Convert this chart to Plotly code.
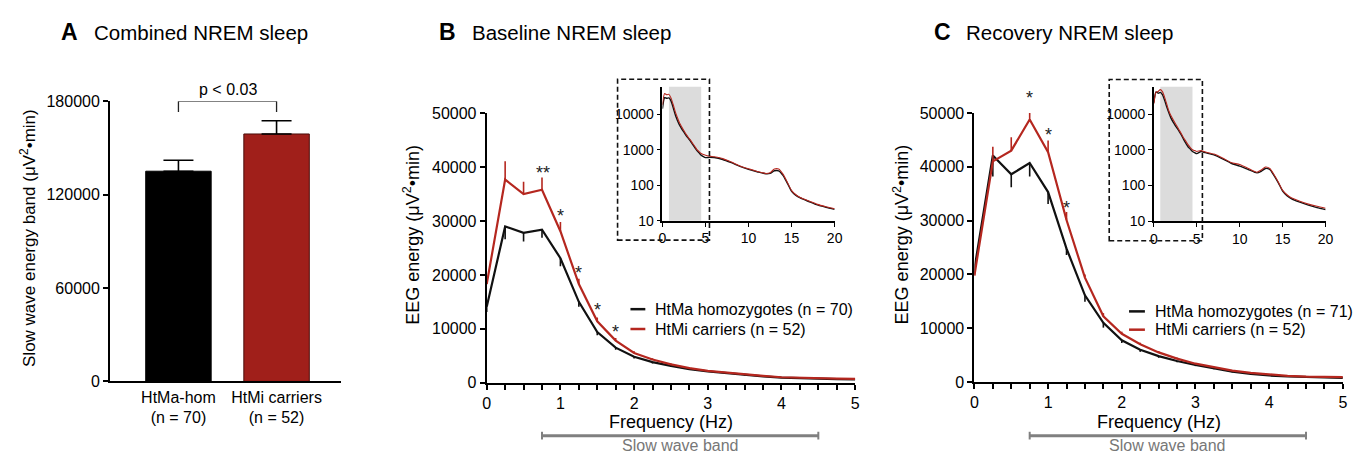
import plotly.graph_objects as go

W, H = 1368, 461
FONT = "Liberation Sans, Arial, sans-serif"
BLACK = "#111111"
RED = "#B5271F"
BAR_RED = "#A01F1A"

# ---------------- Panel A data ----------------
groups = ["HtMa-hom", "HtMi carriers"]
group_n = ["(n = 70)", "(n = 52)"]
swe_mean = [135000, 158900]
swe_sem = [7000, 8500]
p_label = "p < 0.03"
a_yticks = [0, 60000, 120000, 180000]

# ---------------- Panels B/C main data (0-5 Hz, 0.25 Hz bins) ----------------
freq = [0.0, 0.25, 0.5, 0.75, 1.0, 1.25, 1.5, 1.75, 2.0, 2.25, 2.5,
        2.75, 3.0, 3.25, 3.5, 3.75, 4.0, 4.25, 4.5, 4.75, 5.0]

base_hom = [14100, 29000, 27800, 28400, 23100, 15000, 9400, 6500, 4800, 3800, 3100,
            2500, 2100, 1750, 1400, 1150, 950, 820, 700, 640, 600]
base_hom_sem = [1000, 2400, 1600, 1500, 1500, 900, 600, 400, 300, 250, 200,
                150, 120, 100, 80, 70, 60, 50, 40, 40, 40]
base_car = [18300, 37700, 35000, 35800, 28100, 18300, 11400, 7800, 5500, 4300, 3400,
            2700, 2200, 1850, 1500, 1250, 1000, 880, 780, 730, 700]
base_car_sem = [800, 3400, 2300, 2300, 1700, 1000, 700, 500, 350, 250, 200,
                150, 120, 100, 80, 70, 60, 50, 40, 40, 40]

rec_hom = [21000, 42100, 38600, 40700, 35300, 24800, 16100, 11000, 7750, 6000, 4800,
           3900, 3150, 2500, 1900, 1500, 1200, 1050, 900, 830, 780]
rec_hom_sem = [1000, 3900, 2400, 2500, 2200, 1200, 1200, 900, 500, 400, 300,
               250, 200, 150, 120, 100, 80, 70, 60, 50, 45]
rec_car = [19800, 41000, 43000, 48800, 42700, 30100, 19400, 12200, 8950, 7000, 5500,
           4350, 3400, 2700, 2100, 1700, 1370, 1150, 1000, 950, 900]
rec_car_sem = [800, 2700, 2500, 3000, 2200, 1500, 600, 600, 400, 300, 250,
               200, 150, 120, 100, 80, 70, 60, 50, 45, 40]

# significance marks (frequency, label, height)
base_sig_f = [0.77, 1.0, 1.25, 1.5, 1.75]
base_sig_t = ["**", "*", "*", "*", "*"]
base_sig_y = [39450, 31400, 21000, 14000, 9950]
rec_sig_f = [0.75, 1.0, 1.25]
rec_sig_t = ["*", "*", "*"]
rec_sig_y = [53400, 46400, 32900]

# ---------------- Inset extension (5.5-20 Hz) ----------------
inset_freq_ext = [5.5, 6, 7, 8, 9, 10, 11, 12, 12.5, 13, 13.5, 14, 14.5, 15, 15.5, 16, 17, 18, 19, 20]
base_hom_ext = [610, 600, 530, 430, 340, 280, 240, 210, 215, 255, 255, 190, 115, 68, 52, 44, 35, 28, 24, 21]
base_car_ext = [660, 630, 560, 450, 350, 290, 245, 215, 225, 285, 285, 205, 122, 71, 54, 45, 36, 29, 25, 22]
rec_hom_ext = [900, 830, 720, 560, 420, 350, 280, 225, 250, 300, 280, 190, 118, 70, 52, 43, 34, 28, 24, 21]
rec_car_ext = [950, 870, 760, 590, 440, 385, 300, 235, 270, 330, 300, 200, 124, 73, 55, 45, 36, 30, 26, 23]

inset_yticks = [10, 100, 1000, 10000]
inset_xticks = [0, 5, 10, 15, 20]
band = [0.75, 4.5]
band_label = "Slow wave band"
main_yticks = [0, 10000, 20000, 30000, 40000, 50000]

legend_b = ["HtMa homozygotes (n = 70)", "HtMi carriers (n = 52)"]
legend_c = ["HtMa homozygotes (n = 71)", "HtMi carriers (n = 52)"]
ytitle_main = "EEG energy (\u03bcV<sup>2</sup>\u2022min)"
ytitle_a = "Slow wave energy band (\u03bcV<sup>2</sup>\u2022min)"
xtitle = "Frequency (Hz)"
panel_letters = ["A", "B", "C"]
panel_titles = ["Combined NREM sleep", "Baseline NREM sleep", "Recovery NREM sleep"]


def px(x):
    return x / W


def py(y):
    return 1 - y / H


fig = go.Figure()

# Panel A bars
fig.add_trace(go.Bar(
    x=groups, y=swe_mean, width=0.667,
    marker=dict(color=["#000000", BAR_RED], line=dict(color=["#000000", "#4a0d0a"], width=1)),
    error_y=dict(type="data", array=swe_sem, arrayminus=[0, 0], symmetric=False,
                 color="#000000", thickness=1.6, width=15),
    xaxis="x", yaxis="y", showlegend=False,
))


def spectrum(xa, ya, f, hom, hom_sem, car, car_sem):
    fig.add_trace(go.Scatter(
        x=f, y=hom, mode="lines", line=dict(color=BLACK, width=2.2),
        error_y=dict(type="data", array=[0] * len(hom), arrayminus=hom_sem, symmetric=False,
                     color=BLACK, thickness=1.6, width=0),
        xaxis=xa, yaxis=ya, showlegend=False, cliponaxis=False))
    fig.add_trace(go.Scatter(
        x=f, y=car, mode="lines", line=dict(color=RED, width=2.2),
        error_y=dict(type="data", array=car_sem, arrayminus=[0] * len(car), symmetric=False,
                     color=RED, thickness=1.6, width=0),
        xaxis=xa, yaxis=ya, showlegend=False, cliponaxis=False))


def inset(xa, ya, hom, car, hom_ext, car_ext):
    fx = freq + inset_freq_ext
    fig.add_trace(go.Scatter(x=fx, y=hom + hom_ext, mode="lines",
                             line=dict(color=BLACK, width=1.4, shape="spline", smoothing=0.6),
                             xaxis=xa, yaxis=ya, showlegend=False))
    fig.add_trace(go.Scatter(x=fx, y=car + car_ext, mode="lines",
                             line=dict(color=RED, width=1.1, shape="spline", smoothing=0.6),
                             xaxis=xa, yaxis=ya, showlegend=False))


spectrum("x2", "y2", freq, base_hom, base_hom_sem, base_car, base_car_sem)
inset("x3", "y3", base_hom, base_car, base_hom_ext, base_car_ext)
spectrum("x4", "y4", freq, rec_hom, rec_hom_sem, rec_car, rec_car_sem)
inset("x5", "y5", rec_hom, rec_car, rec_hom_ext, rec_car_ext)

tickfont = dict(family=FONT, size=16, color="#000")
insetfont = dict(family=FONT, size=14, color="#000")

common = dict(showgrid=False, zeroline=False, showline=True, linecolor="#000",
              ticks="outside", tickcolor="#000")

# Panel A axes
fig.update_layout(
    xaxis=dict(domain=[px(107), px(340)], anchor="y", range=[-0.697, 1.657],
               showgrid=False, zeroline=False, showline=True, linecolor="#000", linewidth=2,
               ticks="", tickvals=groups,
               ticktext=[f"{g}<br>{n}" for g, n in zip(groups, group_n)],
               tickfont=tickfont, fixedrange=True),
    yaxis=dict(domain=[py(387.7), py(96.7)], anchor="x", range=[0, 180000],
               tickvals=a_yticks, ticktext=[str(v) for v in a_yticks],
               linewidth=2, ticklen=5, tickwidth=1.5, tickfont=tickfont, **common),
)

main_x = dict(range=[0, 5], tickvals=[0, 1, 2, 3, 4, 5], ticklen=5, tickwidth=1.5, linewidth=2,
              minor=dict(dtick=0.25, ticks="outside", ticklen=5, tickwidth=1.5, tickcolor="#000"),
              tickfont=tickfont, **common)
main_y = dict(range=[0, 50000], tickvals=main_yticks,
              ticktext=[str(v) for v in main_yticks],
              ticklen=5, tickwidth=1.5, linewidth=2, tickfont=tickfont, **common)
ins_x = dict(range=[0, 20], tickvals=inset_xticks, ticklen=4, tickwidth=1.3, linewidth=1.6,
             tickfont=insetfont, **common)
ins_y = dict(type="log", range=[1, 4.77], tickvals=inset_yticks,
             ticktext=[str(v) for v in inset_yticks], ticklen=4, tickwidth=1.3, linewidth=1.6,
             tickfont=insetfont, **common)

B_YDOM = [py(389), py(109.3)]
C_YDOM = [py(388.3), py(109)]
fig.update_layout(
    xaxis2=dict(domain=[px(487), px(858.7)], anchor="y2", **main_x),
    yaxis2=dict(domain=B_YDOM, anchor="x2", **main_y),
    xaxis3=dict(domain=[px(664.3), px(838)], anchor="y3", **ins_x),
    yaxis3=dict(domain=[py(221), py(81.7)], anchor="x3", **ins_y),
    xaxis4=dict(domain=[px(979), px(1350.7)], anchor="y4", **main_x),
    yaxis4=dict(domain=C_YDOM, anchor="x4", **main_y),
    xaxis5=dict(domain=[px(1160), px(1333.3)], anchor="y5", **ins_x),
    yaxis5=dict(domain=[py(221.3), py(81.7)], anchor="x5", **ins_y),
)

shapes = []
ann = []

# bracket panel A
top = a_yticks[-1]
drop = 7000
shapes += [
    dict(type="line", xref="x", yref="y", x0=0, x1=0, y0=top - drop, y1=top, line=dict(color="#222", width=1.3)),
    dict(type="line", xref="x", yref="y", x0=0, x1=1, y0=top, y1=top, line=dict(color="#222", width=1.3)),
    dict(type="line", xref="x", yref="y", x0=1, x1=1, y0=top - drop, y1=top, line=dict(color="#222", width=1.3)),
]
ann.append(dict(text=p_label, x=0.5, y=top, xref="x", yref="y", yanchor="bottom", yshift=1,
                showarrow=False, font=dict(family=FONT, size=16, color="#000")))

# grey band + dashed boxes for insets
for xa, ya, box in [("x3", "y3", (619, 74, 711.7, 241)), ("x5", "y5", (1115, 74.3, 1209, 241.7))]:
    shapes.append(dict(type="rect", xref=xa, yref=ya + " domain", x0=band[0], x1=band[1], y0=0, y1=1,
                       fillcolor="#DCDCDC", line=dict(width=0), layer="below"))
    shapes.append(dict(type="rect", xref="paper", yref="paper", x0=px(box[0]), x1=px(box[2]),
                       y0=py(box[3]), y1=py(box[1]),
                       line=dict(color="#111", width=1.6, dash="5px,3px")))

# slow wave band brackets + x titles
for xa in ["x2", "x4"]:
    yb = py(444)
    shapes.append(dict(type="line", xref=xa, yref="paper", x0=band[0], x1=band[1], y0=yb, y1=yb,
                       line=dict(color="#808080", width=3)))
    for b in band:
        shapes.append(dict(type="line", xref=xa, yref="paper", x0=b, x1=b, y0=py(440), y1=py(448),
                           line=dict(color="#808080", width=2)))
    ann.append(dict(text=band_label, x=(band[0] + band[1]) / 2, y=py(454), xref=xa, yref="paper",
                    showarrow=False, yanchor="middle",
                    font=dict(family=FONT, size=16, color="#777777")))
    ann.append(dict(text=xtitle, x=2.5, y=py(430), xref=xa, yref="paper", showarrow=False,
                    yanchor="middle", font=dict(family=FONT, size=18, color="#000")))

# significance asterisks (placed in paper y so marks above the axis top still show)
for xa, ydom, fs, ts, ys in [("x2", B_YDOM, base_sig_f, base_sig_t, base_sig_y),
                             ("x4", C_YDOM, rec_sig_f, rec_sig_t, rec_sig_y)]:
    ymax = main_yticks[-1]
    for f, t, y in zip(fs, ts, ys):
        yp = ydom[0] + (ydom[1] - ydom[0]) * y / ymax
        ann.append(dict(text=t, x=f, y=yp, xref=xa, yref="paper", showarrow=False, yanchor="middle",
                        yshift=-3, font=dict(family=FONT, size=18, color="#222")))

# manual legends
for labels, lx0, lx1, tx, ys in [(legend_b, 632, 647, 655, (312.7, 333.3)),
                                 (legend_c, 1135, 1151, 1159, (315, 334))]:
    for lab, col, yy in zip(labels, [BLACK, RED], ys):
        shapes.append(dict(type="line", xref="paper", yref="paper", x0=px(lx0), x1=px(lx1),
                           y0=py(yy), y1=py(yy), line=dict(color=col, width=2.5)))
        ann.append(dict(text=lab, x=px(tx), y=py(yy), xref="paper", yref="paper", showarrow=False,
                        xanchor="left", yanchor="middle", font=dict(family=FONT, size=16, color="#000")))

# y-axis titles
for text, xc, yc, size in [(ytitle_a, 24, 239, 17), (ytitle_main, 411, 235, 18), (ytitle_main, 905, 235, 18)]:
    ann.append(dict(text=text, x=px(xc), y=py(yc), xref="paper", yref="paper", showarrow=False,
                    textangle=-90, xanchor="center", yanchor="middle",
                    font=dict(family=FONT, size=size, color="#000")))

# panel titles
for letter, lx, title, tx in zip(panel_letters, [55, 437, 936], panel_titles, [89, 470, 968]):
    ann.append(dict(text=f"<b>{letter}</b>", x=px(lx), y=py(25), xref="paper", yref="paper",
                    showarrow=False, xanchor="left", yanchor="middle",
                    font=dict(family=FONT, size=23, color="#000")))
    ann.append(dict(text=title, x=px(tx), y=py(25), xref="paper", yref="paper",
                    showarrow=False, xanchor="left", yanchor="middle",
                    font=dict(family=FONT, size=20.5, color="#000")))

fig.update_layout(
    width=W, height=H, autosize=False,
    margin=dict(l=0, r=0, t=0, b=0),
    paper_bgcolor="white", plot_bgcolor="rgba(0,0,0,0)",
    shapes=shapes, annotations=ann, showlegend=False,
    font=dict(family=FONT, color="#000"),
)

fig.write_html("out.html", config={"displayModeBar": False},
               post_script="document.body.style.margin='0';document.body.style.overflow='hidden';")
